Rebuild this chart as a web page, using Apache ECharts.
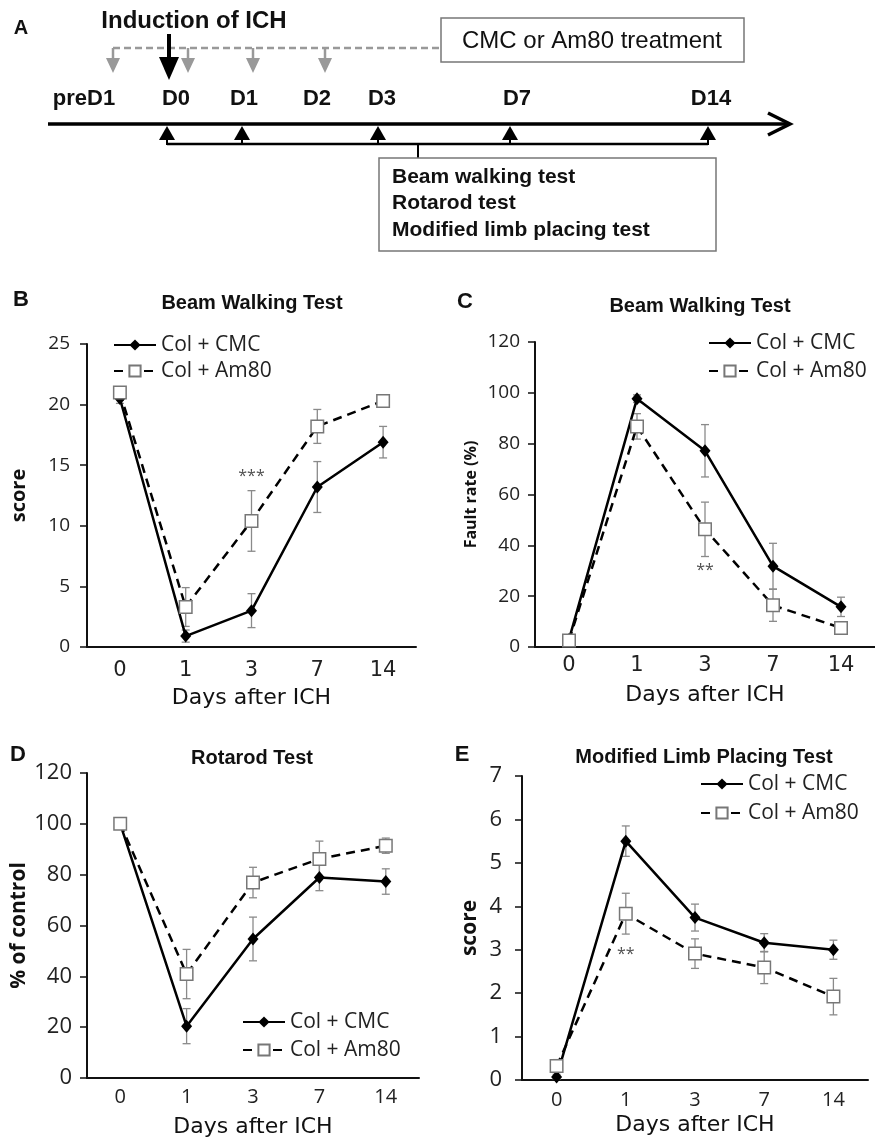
<!DOCTYPE html>
<html><head><meta charset="utf-8">
<script src="https://cdn.jsdelivr.net/npm/echarts@6/dist/echarts.min.js"></script>
<style>html,body{margin:0;padding:0;background:#fff}#c{width:875px;height:1140px}</style>
</head><body><div id="c"></div>
<script>
// ---------- DATA ----------
const days = ['0', '1', '3', '7', '14'];
const nameCMC = 'Col + CMC';
const nameAm80 = 'Col + Am80';

// B: Beam walking score
const beamScoreCMC     = [20.5, 0.9, 3.0, 13.2, 16.9];
const beamScoreCMCErr  = [0.4, 0.5, 1.4, 2.1, 1.3];
const beamScoreAm80    = [21.0, 3.3, 10.4, 18.2, 20.3];
const beamScoreAm80Err = [0.4, 1.6, 2.5, 1.4, 0.3];

// C: Beam walking fault rate (%)
const faultCMC     = [3.0, 97.7, 77.2, 31.8, 15.8];
const faultCMCErr  = [1.0, 1.5, 10.3, 9.0, 3.8];
const faultAm80    = [2.6, 86.8, 46.3, 16.4, 7.5];
const faultAm80Err = [1.0, 5.0, 10.7, 6.3, 1.5];

// D: Rotarod (% of control)
const rotaCMC     = [100, 20.4, 54.7, 78.9, 77.3];
const rotaCMCErr  = [0.0, 6.9, 8.6, 5.2, 5.0];
const rotaAm80    = [100, 40.9, 76.9, 86.2, 91.4];
const rotaAm80Err = [0.0, 9.7, 6.0, 7.0, 3.0];

// E: Modified limb placing score
const limbCMC     = [0.07, 5.5, 3.74, 3.16, 3.0];
const limbCMCErr  = [0.05, 0.35, 0.31, 0.21, 0.22];
const limbAm80    = [0.32, 3.83, 2.91, 2.59, 1.92];
const limbAm80Err = [0.15, 0.47, 0.34, 0.37, 0.42];

// significance marks [panelIndex, day, yValue, text]
const sigMarks = [[0, '3', 14.1, '***'], [1, '3', 30.2, '**'], [3, '1', 2.88, '**']];

// panel A (schematic)
const timelineLabels = ['preD1', 'D0', 'D1', 'D2', 'D3', 'D7', 'D14'];
const treatmentArrowDays = ['preD1', 'D0', 'D1', 'D2'];
const testArrowDays = ['D0', 'D1', 'D3', 'D7', 'D14'];
const testNames = ['Beam walking test', 'Rotarod test', 'Modified limb placing test'];

// ---------- LAYOUT ----------
const labelX = {preD1: 84, D0: 176, D1: 244, D2: 317, D3: 382, D7: 517, D14: 711};
const treatX = {preD1: 113, D0: 188, D1: 253, D2: 325};
const testX = {D0: 167, D1: 242, D3: 378, D7: 510, D14: 708};

const panels = [
  {grid: {left: 87, top: 344, width: 329, height: 303}, y: [0, 25, 5], yName: 'score', yNameSize: 20, yNameGap: 58, yLabSize: 19, yLabMargin: 17,
   xFont: 'DejaVu Sans', xLabSize: 21, xMargin: 13, xNameGap: 40, title: 'Beam Walking Test', tx: 252, ty: 303, letter: 'B', lx: 21, ly: 300,
   legend: {left: 113, top: 334, itemGap: 4}, cmc: beamScoreCMC, cmcE: beamScoreCMCErr, am: beamScoreAm80, amE: beamScoreAm80Err},
  {grid: {left: 535, top: 342, width: 347, height: 305}, y: [0, 120, 20], yName: 'Fault rate (%)', yNameSize: 16, yNameGap: 56, yLabSize: 19, yLabMargin: 15,
   xFont: 'DejaVu Sans', xLabSize: 21, xMargin: 8, xNameGap: 37, title: 'Beam Walking Test', tx: 700, ty: 306, letter: 'C', lx: 465, ly: 302,
   legend: {left: 708, top: 332, itemGap: 6}, cmc: faultCMC, cmcE: faultCMCErr, am: faultAm80, amE: faultAm80Err},
  {grid: {left: 87, top: 773, width: 332, height: 305}, y: [0, 120, 20], yName: '% of control', yNameSize: 21, yNameGap: 57, yLabSize: 22, yLabMargin: 15,
   xFont: 'Open Sans', xLabSize: 20, xMargin: 9, xNameGap: 38, title: 'Rotarod Test', tx: 252, ty: 758, letter: 'D', lx: 18, ly: 755,
   legend: {left: 242, top: 1011, itemGap: 6}, cmc: rotaCMC, cmcE: rotaCMCErr, am: rotaAm80, amE: rotaAm80Err},
  {grid: {left: 522, top: 776, width: 346, height: 304}, y: [0, 7, 1], yName: 'score', yNameSize: 21, yNameGap: 41, yLabSize: 22, yLabMargin: 20,
   xFont: 'Open Sans', xLabSize: 20, xMargin: 10, xNameGap: 34, title: 'Modified Limb Placing Test', tx: 704, ty: 757, letter: 'E', lx: 462, ly: 755,
   legend: {left: 700, top: 773, itemGap: 7}, cmc: limbCMC, cmcE: limbCMCErr, am: limbAm80, amE: limbAm80Err}
];

const INK = '#111';
const ERR = '#8a8a8a';

function errSeries(gi, vals, errs, z) {
  return {
    type: 'custom', xAxisIndex: gi, yAxisIndex: gi, z: z, silent: true, animation: false,
    encode: {x: 0, y: [1, 2]},
    data: vals.map((v, i) => [i, v - errs[i], v + errs[i]]),
    renderItem(params, api) {
      const lo = api.coord([api.value(0), api.value(1)]);
      const hi = api.coord([api.value(0), api.value(2)]);
      const w = 4, st = {stroke: ERR, lineWidth: 1.3};
      return {type: 'group', children: [
        {type: 'line', shape: {x1: lo[0], y1: lo[1], x2: hi[0], y2: hi[1]}, style: st},
        {type: 'line', shape: {x1: lo[0] - w, y1: lo[1], x2: lo[0] + w, y2: lo[1]}, style: st},
        {type: 'line', shape: {x1: hi[0] - w, y1: hi[1], x2: hi[0] + w, y2: hi[1]}, style: st}
      ]};
    }
  };
}

const grids = [], xAxes = [], yAxes = [], series = [], legends = [], graphics = [];

panels.forEach((p, gi) => {
  grids.push(p.grid);
  xAxes.push({
    gridIndex: gi, type: 'category', data: days, boundaryGap: true,
    axisLine: {lineStyle: {color: INK, width: 2}},
    axisTick: {alignWithLabel: true, length: 6, lineStyle: {color: INK, width: 1.5}},
    axisLabel: {fontFamily: p.xFont, fontSize: p.xLabSize, color: '#222', margin: p.xMargin},
    name: 'Days after ICH', nameLocation: 'middle', nameGap: p.xNameGap,
    nameTextStyle: {fontFamily: 'DejaVu Sans', fontSize: 22, color: INK}
  });
  yAxes.push({
    gridIndex: gi, type: 'value', min: p.y[0], max: p.y[1], interval: p.y[2],
    axisLine: {show: true, lineStyle: {color: INK, width: 2}},
    axisTick: {show: true, length: 7, lineStyle: {color: INK, width: 1.5}},
    splitLine: {show: false},
    axisLabel: {fontFamily: 'Open Sans', fontSize: p.yLabSize, color: '#222', margin: p.yLabMargin},
    name: p.yName, nameLocation: 'middle', nameGap: p.yNameGap,
    nameTextStyle: {fontFamily: 'Open Sans', fontWeight: 'bold', fontSize: p.yNameSize, color: INK}
  });
  series.push(errSeries(gi, p.cmc, p.cmcE, 2));
  series.push(errSeries(gi, p.am, p.amE, 2));
  series.push({
    name: nameCMC, type: 'line', xAxisIndex: gi, yAxisIndex: gi, data: p.cmc, z: 3, animation: false,
    symbol: 'diamond', symbolSize: [11, 13], showAllSymbol: true,
    itemStyle: {color: '#000'}, lineStyle: {color: '#000', width: 2.5}
  });
  series.push({
    name: nameAm80, type: 'line', xAxisIndex: gi, yAxisIndex: gi, data: p.am, z: 4, animation: false,
    symbol: 'rect', symbolSize: 12.5, showAllSymbol: true,
    itemStyle: {color: '#fff', borderColor: '#777', borderWidth: 1.5},
    lineStyle: {color: '#000', width: 2.5, type: [9, 6]}
  });
  legends.push({
    left: p.legend.left, top: p.legend.top, orient: 'vertical', itemGap: p.legend.itemGap, padding: 0,
    itemWidth: 42, itemHeight: 14, selectedMode: false, data: [nameCMC, nameAm80],
    textStyle: {fontFamily: 'Open Sans', fontSize: 21, color: '#222', lineHeight: 22}
  });
  graphics.push({type: 'text', x: p.tx, y: p.ty, style: {text: p.title, fill: INK, align: 'center', verticalAlign: 'middle',
    fontFamily: 'Liberation Sans', fontWeight: 'bold', fontSize: 20}});
  graphics.push({type: 'text', x: p.lx, y: p.ly, style: {text: p.letter, fill: INK, align: 'center', verticalAlign: 'middle',
    fontFamily: 'Liberation Sans', fontWeight: 'bold', fontSize: 22}});
});

sigMarks.forEach(m => {
  series.push({
    type: 'scatter', xAxisIndex: m[0], yAxisIndex: m[0], symbolSize: 1, itemStyle: {color: 'rgba(0,0,0,0)'},
    silent: true, animation: false, z: 5,
    data: [{value: [m[1], m[2]], label: {show: true, formatter: m[3], position: 'inside',
      fontFamily: 'Open Sans', fontSize: 16, color: '#222'}}]
  });
});

// ---------- Panel A schematic ----------
const A = [];
const bold = (size) => ({fontFamily: 'Liberation Sans', fontWeight: 'bold', fontSize: size, fill: INK});
A.push({type: 'text', x: 21, y: 28, style: Object.assign({text: 'A', align: 'center', verticalAlign: 'middle'}, bold(20))});
A.push({type: 'text', x: 194, y: 21, style: Object.assign({text: 'Induction of ICH', align: 'center', verticalAlign: 'middle'}, bold(24))});
// treatment dashed line and box
A.push({type: 'line', shape: {x1: 113, y1: 48, x2: 441, y2: 48}, style: {stroke: '#999', lineWidth: 2.5, lineDash: [7, 4]}});
treatmentArrowDays.forEach(d => {
  const x = treatX[d];
  A.push({type: 'line', shape: {x1: x, y1: 48, x2: x, y2: 60}, style: {stroke: '#999', lineWidth: 2.5}});
  A.push({type: 'polygon', shape: {points: [[x - 7, 58], [x + 7, 58], [x, 73]]}, style: {fill: '#999'}});
});
A.push({type: 'rect', shape: {x: 441, y: 18, width: 303, height: 44}, style: {fill: '#fff', stroke: '#777', lineWidth: 1.5}});
A.push({type: 'text', x: 592, y: 41, style: {text: 'CMC or Am80 treatment', align: 'center', verticalAlign: 'middle',
  fontFamily: 'Liberation Sans', fontSize: 24, fill: INK}});
// induction arrow
A.push({type: 'line', shape: {x1: 169, y1: 34, x2: 169, y2: 62}, style: {stroke: '#000', lineWidth: 4}});
A.push({type: 'polygon', shape: {points: [[159, 57], [179, 57], [169, 80]]}, style: {fill: '#000'}});
// day labels
timelineLabels.forEach(d => {
  A.push({type: 'text', x: labelX[d], y: 99, style: Object.assign({text: d, align: 'center', verticalAlign: 'middle'}, bold(22))});
});
// main axis
A.push({type: 'line', shape: {x1: 48, y1: 124, x2: 789, y2: 124}, style: {stroke: '#000', lineWidth: 3.5}});
A.push({type: 'polyline', shape: {points: [[768, 113], [790, 124], [768, 135]]}, style: {stroke: '#000', lineWidth: 3.5, fill: null}});
// test arrows and bracket
testArrowDays.forEach(d => {
  const x = testX[d];
  A.push({type: 'polygon', shape: {points: [[x, 126], [x - 8, 140], [x + 8, 140]]}, style: {fill: '#000'}});
  A.push({type: 'line', shape: {x1: x, y1: 139, x2: x, y2: 145}, style: {stroke: '#000', lineWidth: 2}});
});
A.push({type: 'line', shape: {x1: testX.D0, y1: 144, x2: testX.D14, y2: 144}, style: {stroke: '#000', lineWidth: 2.5}});
A.push({type: 'line', shape: {x1: 418, y1: 144, x2: 418, y2: 158}, style: {stroke: '#000', lineWidth: 2}});
A.push({type: 'rect', shape: {x: 379, y: 158, width: 337, height: 93}, style: {fill: '#fff', stroke: '#777', lineWidth: 1.5}});
testNames.forEach((t, i) => {
  A.push({type: 'text', x: 392, y: 177 + i * 26.5, style: Object.assign({text: t, align: 'left', verticalAlign: 'middle'}, bold(21))});
});

const chart = echarts.init(document.getElementById('c'), null, {renderer: 'canvas'});
chart.setOption({
  backgroundColor: '#fff',
  animation: false,
  grid: grids, xAxis: xAxes, yAxis: yAxes, legend: legends, series: series,
  graphic: {elements: graphics.concat(A)}
});
</script></body></html>
